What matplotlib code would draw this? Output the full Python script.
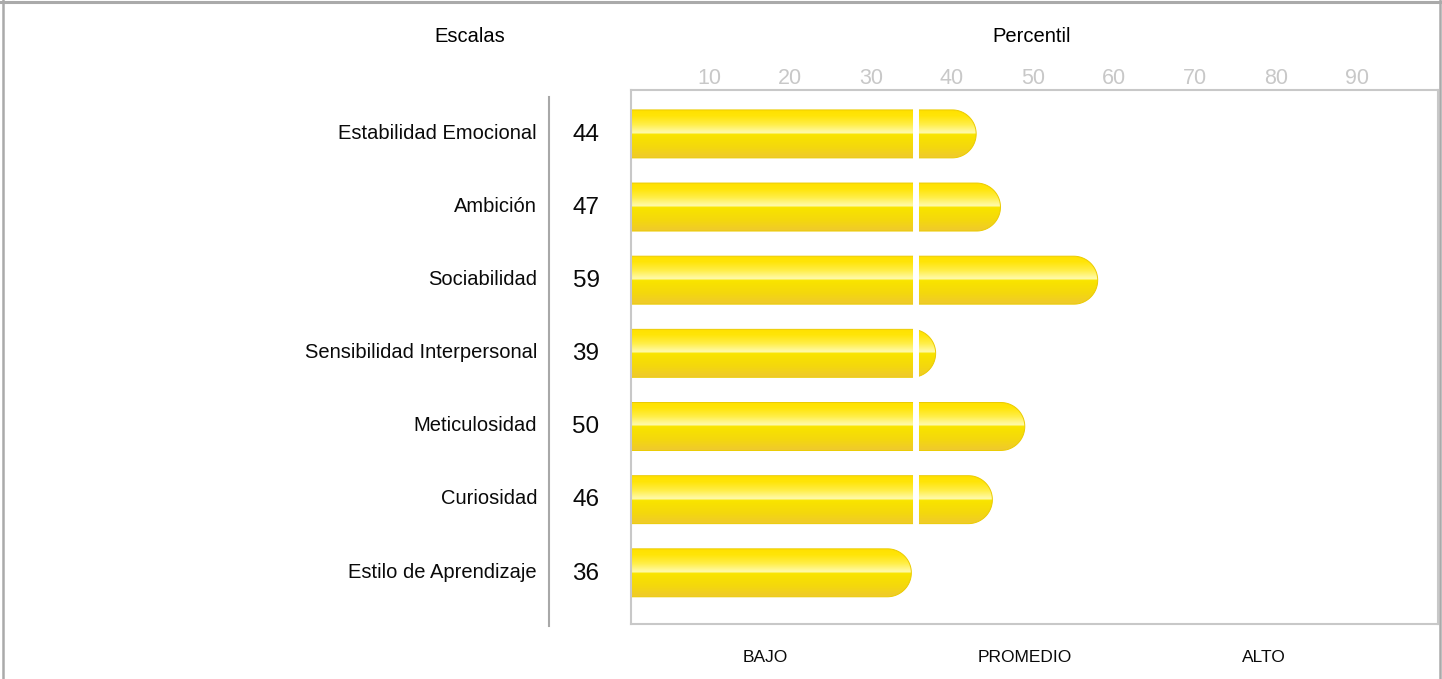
import numpy as np
import matplotlib.pyplot as plt
import matplotlib.transforms as mtransforms
from matplotlib.colors import LinearSegmentedColormap
from matplotlib.patches import Polygon
from matplotlib.lines import Line2D

plt.rcParams['font.family'] = ['Liberation Sans', 'DejaVu Sans']

escalas = ['Estabilidad Emocional', 'Ambición', 'Sociabilidad',
           'Sensibilidad Interpersonal', 'Meticulosidad', 'Curiosidad',
           'Estilo de Aprendizaje']
percentil = [44, 47, 59, 39, 50, 46, 36]
ticks = [10, 20, 30, 40, 50, 60, 70, 80, 90]
niveles = ['BAJO', 'PROMEDIO', 'ALTO']
nivel_pos = [18, 50, 79.5]
corte = 36.6


def main():
    W, H = 1442, 679
    fig = plt.figure(figsize=(W / 100, H / 100), dpi=100)
    ax = fig.add_axes([631 / W, 1 - 624 / H, (1438 - 631) / W, (624 - 90) / H])
    xmin, xmax = 1.4, 101.0
    ytop, ybot = -0.6, 6.7

    # px per unit, used to keep the round end circular
    px_x = (1438 - 631) / (xmax - xmin)
    px_y = (624 - 90) / (ybot - ytop)
    h = 0.656
    ry = h / 2
    rx = ry * px_y / px_x

    cmap = LinearSegmentedColormap.from_list('barra', [
        (0.0, '#FFE100'), (0.12, '#FFE508'), (0.30, '#FFEE48'),
        (0.44, '#FFF89A'), (0.48, '#FFFAAE'), (0.50, '#FAE600'),
        (0.56, '#F8E200'), (0.78, '#F4D80E'), (1.0, '#EFC92E')])
    grad = np.linspace(0, 1, 256).reshape(-1, 1)

    x0 = xmin - 2
    t = np.linspace(-np.pi / 2, np.pi / 2, 60)
    for i, v in enumerate(percentil):
        arc = np.column_stack([v - rx + rx * np.cos(t), i + ry * np.sin(t)])
        verts = np.vstack([[x0, i - ry], arc, [x0, i + ry]])
        patch = Polygon(verts, closed=True, facecolor='none',
                        edgecolor='#EBCB00', lw=0.7, zorder=2.1)
        ax.add_patch(patch)
        im = ax.imshow(grad, cmap=cmap, aspect='auto', zorder=2,
                       extent=(x0, v, i + ry, i - ry), interpolation='bilinear')
        im.set_clip_path(patch)

    ax.axvline(corte, color='white', lw=4.3, zorder=2.3)

    ax.set_xlim(xmin, xmax)
    ax.set_ylim(ybot, ytop)
    ax.set_xticks([])
    ax.set_yticks([])
    for s in ax.spines.values():
        s.set_color('#C8C8C8')
        s.set_linewidth(1.5)

    # percentile labels above the box
    tr = mtransforms.offset_copy(
        mtransforms.blended_transform_factory(ax.transData, ax.transAxes),
        fig, x=8.3, units='dots')
    for tk in ticks:
        ax.text(tk, 1 + 11 / 534, str(tk), transform=tr, ha='center',
                va='center', fontsize=15.5, color='#C8C8C8')

    # scale names and values
    ty = mtransforms.blended_transform_factory(fig.transFigure, ax.transData)
    for i, (nombre, v) in enumerate(zip(escalas, percentil)):
        ax.text(537 / W, i - 0.01, nombre, transform=ty, ha='right', va='center',
                fontsize=14.5, color='#0A0A0A')
        ax.text(586 / W, i + 0.01, str(v), transform=ty, ha='center', va='center',
                fontsize=17.5, color='#0A0A0A')

    tb = mtransforms.blended_transform_factory(ax.transData, fig.transFigure)
    for nv, p in zip(niveles, nivel_pos):
        ax.text(p, 1 - 657 / H, nv, transform=tb, ha='center', va='center',
                fontsize=12.5, color='#0A0A0A')

    fig.text(470 / W, 1 - 37 / H, 'Escalas', ha='center', va='center', fontsize=14.5)
    fig.text(1032 / W, 1 - 37 / H, 'Percentil', ha='center', va='center', fontsize=14.5)

    fig.add_artist(Line2D([549 / W, 549 / W], [1 - 97 / H, 1 - 626 / H],
                          color='#A8A8A8', lw=1.5))
    # outer frame
    fig.add_artist(Line2D([0, 1], [1 - 1.5 / H, 1 - 1.5 / H], color='#AAAAAA', lw=2.2))
    fig.add_artist(Line2D([3 / W, 3 / W], [0, 1], color='#AAAAAA', lw=1.8))
    fig.add_artist(Line2D([1440 / W, 1440 / W], [0, 1], color='#AAAAAA', lw=1.8))

    fig.savefig('out.png', dpi=100)


if __name__ == '__main__':
    main()
